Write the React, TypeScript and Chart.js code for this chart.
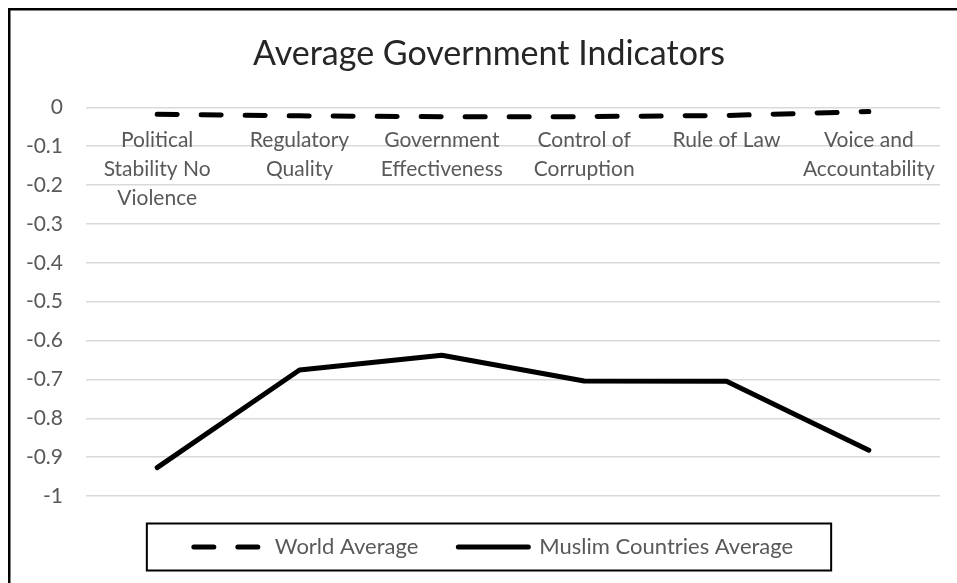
import React, { useEffect, useRef } from 'react';
import { Chart, registerables } from 'chart.js';

Chart.register(...registerables);

const chartTitle = 'Average Government Indicators';
const categories: string[][] = [
  ['Political', 'Stability No', 'Violence'],
  ['Regulatory', 'Quality'],
  ['Government', 'Effectiveness'],
  ['Control of', 'Corruption'],
  ['Rule of Law'],
  ['Voice and', 'Accountability'],
];
const seriesNames = ['World Average', 'Muslim Countries Average'];
const worldAverage = [-0.018, -0.022, -0.024, -0.024, -0.021, -0.011];
const muslimAverage = [-0.927, -0.676, -0.638, -0.704, -0.705, -0.882];
const yMin = -1;
const yMax = 0;
const yStep = 0.1;

const FONT = 'Lato';
const GREY = '#595959';

const framePlugin = {
  id: 'frameAndLegendBox',
  afterLayout(chart: any) {
    // shift the centring frame of title and legend (they are centred on the whole chart in the original)
    if (chart.titleBlock) chart.titleBlock.left = 38;
    if (chart.legend) chart.legend.left = 47;
  },
  afterDraw(chart: any) {
    const ctx = chart.ctx;
    ctx.save();
    ctx.fillStyle = '#000';
    ctx.fillRect(8, 8, chart.width - 8, 2.5);
    ctx.fillRect(8, 8, 2.5, chart.height - 8);
    const boxes = chart.legend && chart.legend.legendHitBoxes;
    if (boxes && boxes.length) {
      const first = boxes[0];
      const last = boxes[boxes.length - 1];
      const cy = first.top + first.height / 2;
      const left = first.left - 47;
      const right = last.left + last.width + 38;
      ctx.strokeStyle = '#000';
      ctx.lineWidth = 2;
      ctx.strokeRect(left, cy - 23.5, right - left, 47);
    }
    ctx.restore();
  },
};

export default function App() {
  const canvasRef = useRef<HTMLCanvasElement | null>(null);

  useEffect(() => {
    if (!canvasRef.current) return;
    const chart = new Chart(canvasRef.current, {
      type: 'line',
      data: {
        labels: categories,
        datasets: [
          {
            label: seriesNames[0],
            data: worldAverage,
            borderColor: '#000',
            backgroundColor: '#000',
            borderWidth: 5,
            borderDash: [20, 24],
            borderCapStyle: 'round',
            borderJoinStyle: 'round',
            pointRadius: 0,
            fill: false,
            tension: 0,
          },
          {
            label: seriesNames[1],
            data: muslimAverage,
            borderColor: '#000',
            backgroundColor: '#000',
            borderWidth: 5,
            borderCapStyle: 'round',
            borderJoinStyle: 'round',
            pointRadius: 0,
            fill: false,
            tension: 0,
          },
        ],
      },
      options: {
        animation: false,
        responsive: false,
        devicePixelRatio: 1,
        layout: { padding: { left: 0, right: 17, top: 0, bottom: 15 } },
        plugins: {
          title: {
            display: true,
            text: chartTitle,
            color: '#262626',
            font: { family: FONT, size: 34, weight: 'normal' },
            padding: { top: 33.6, bottom: 32.9 },
          },
          legend: {
            display: true,
            position: 'bottom',
            labels: {
              usePointStyle: true,
              pointStyleWidth: 70,
              padding: 40,
              color: GREY,
              font: { family: FONT, size: 22 },
              generateLabels: (c: any) =>
                c.data.datasets.map((ds: any, i: number) => ({
                  text: ds.label,
                  fillStyle: ds.borderColor,
                  strokeStyle: ds.borderColor,
                  lineWidth: ds.borderWidth,
                  lineDash: ds.borderDash || [],
                  lineDashOffset: 0,
                  lineCap: 'round',
                  lineJoin: 'round',
                  pointStyle: 'line',
                  hidden: false,
                  fontColor: GREY,
                  datasetIndex: i,
                })),
            },
          },
          tooltip: { enabled: false },
        },
        scales: {
          x: {
            type: 'category',
            position: { y: 0 },
            offset: true,
            grid: { display: false, drawTicks: false },
            border: { display: false },
            ticks: {
              color: GREY,
              font: { family: FONT, size: 21, lineHeight: 1.38 },
              padding: 18,
              maxRotation: 0,
              minRotation: 0,
              autoSkip: false,
            },
          },
          y: {
            min: yMin,
            max: yMax,
            grid: { color: '#d9d9d9', lineWidth: 1.5, drawTicks: false },
            border: { display: false },
            ticks: {
              stepSize: yStep,
              color: GREY,
              font: { family: FONT, size: 21 },
              padding: 23,
              callback: (v: any) => {
                const r = Math.round(Number(v) * 10) / 10;
                return r === 0 ? '0' : String(r);
              },
            },
            afterFit: (s: any) => {
              s.width = 86;
            },
          },
        },
      } as any,
      plugins: [framePlugin],
    });
    return () => chart.destroy();
  }, []);

  return (
    <div style={{ position: 'absolute', left: 0, top: 0, width: 957, height: 583, background: '#fff' }}>
      <canvas ref={canvasRef} width={957} height={583} style={{ display: 'block' }} />
    </div>
  );
}
